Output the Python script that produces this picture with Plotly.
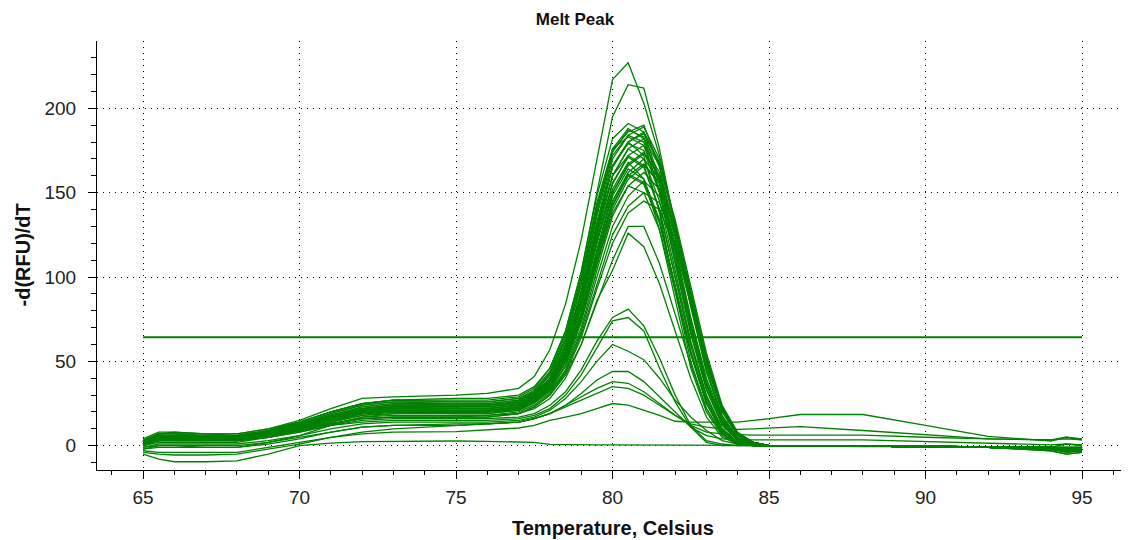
import plotly.graph_objects as go

temps = [65, 65.5, 66, 67, 68, 69, 70, 71, 72, 73,
         75, 76, 77, 77.5, 78, 78.5, 79, 79.5, 80, 80.5,
         81, 81.5, 82, 82.5, 83, 83.5, 84, 84.5, 85, 86,
         88, 90, 92, 94, 94.5, 95]

# Main product peak group (-d(RFU)/dT)
m01 = [3,7,7,6,6,9,14,20,25,27, 27,27,29,34,46,68,103,148,182,191, 186,158,118,76,40,16,4,1,0,0, 0,-1,-1,-2,-2,-2]
m02 = [2,6,6,6,5,8,13,19,24,26, 26,26,28,32,42,62,95,138,175,186, 190,165,125,82,44,18,5,1,0,0, 0,-1,-1,-2,-3,-2]
m03 = [1,5,5,5,5,8,12,18,23,25, 25,25,27,31,40,58,90,132,170,184, 189,170,130,88,48,20,6,2,0,0, 0,-1,-1,-2,-3,-2]
m04 = [3,6,6,5,5,8,13,19,24,26, 25,25,27,32,43,64,98,142,176,188, 182,155,115,72,37,14,3,1,0,0, 0,0,-1,-2,-2,-2]
m05 = [2,5,5,4,4,7,11,17,22,24, 24,24,26,30,39,56,86,128,165,180, 186,168,132,92,52,22,7,2,0,0, 0,-1,-1,-3,-5,-4]
m06 = [2,5,5,5,5,8,12,18,22,24, 23,23,25,30,40,60,92,136,172,184, 180,150,108,66,33,12,3,1,0,0, 0,0,-1,-1,-2,-2]
m07 = [1,4,4,4,4,7,11,16,21,23, 23,23,25,29,38,55,84,124,160,176, 182,166,134,95,55,24,8,2,0,0, 0,-1,-1,-2,-3,-3]
m08 = [0,4,4,4,4,6,10,16,20,22, 22,22,24,29,39,58,89,132,166,180, 172,138,92,50,22,7,1,0,0,0, 0,0,-1,-1,-1,-1]
m09 = [2,6,6,5,5,8,12,17,21,23, 23,24,26,30,38,54,82,120,155,172, 178,162,128,88,50,21,6,2,0,0, 0,-1,-1,-2,-3,-2]
m10 = [1,5,5,4,4,7,11,16,20,22, 22,22,24,28,37,55,85,126,160,176, 170,145,104,62,30,10,2,0,0,0, 0,-1,-1,-1,-2,-1]
m11 = [2,5,5,5,5,8,11,16,20,21, 21,21,23,27,35,52,79,116,150,167, 174,160,128,90,52,22,7,2,0,0, 0,-1,-1,-2,-3,-3]
m12 = [3,7,7,6,6,9,13,18,22,23, 22,22,24,29,40,60,90,128,160,172, 166,140,100,60,28,10,2,1,0,0, 0,0,-1,-1,1,0]
m13 = [1,4,4,4,4,6,10,15,19,21, 20,20,22,26,34,50,76,112,145,162, 170,158,126,88,50,21,6,2,0,0, 0,-1,-1,-2,-3,-2]
m14 = [2,5,5,5,5,8,12,17,21,22, 21,21,23,27,36,54,82,120,152,168, 158,128,86,46,20,6,1,0,0,0, 0,0,-1,-1,-2,-1]
m15 = [0,3,3,3,3,6,9,14,18,20, 20,20,22,26,33,48,73,108,140,158, 166,156,126,90,52,23,7,2,0,0, 0,-1,-1,-3,-5,-4]
m16 = [1,4,4,4,4,7,10,15,19,20, 20,20,22,27,36,52,79,115,148,164, 158,134,95,56,26,9,2,0,0,0, 0,-1,-1,-1,-2,-2]
m17 = [2,5,5,5,4,7,11,16,19,21, 20,20,22,26,33,47,70,104,136,154, 162,152,124,88,52,23,7,2,0,0, 0,-1,-1,-2,-3,-2]
m18 = [3,6,6,6,5,8,12,17,20,21, 21,21,23,28,37,53,78,112,143,160, 155,132,94,55,25,8,1,0,0,0, 0,0,-1,-1,-2,-1]
m19 = [1,4,4,4,4,6,10,14,18,19, 19,19,21,25,32,45,68,100,130,148, 157,148,122,86,50,22,6,1,0,0, 0,-1,-1,-2,-3,-2]
m20 = [2,5,5,4,4,7,11,15,19,20, 19,19,21,26,34,50,75,107,138,154, 150,128,92,54,25,8,1,0,0,0, 0,-1,-1,-1,-2,-2]
m21 = [0,3,3,3,3,6,9,13,17,18, 18,18,20,24,31,44,66,96,125,142, 150,144,120,86,50,22,6,1,0,0, 0,-1,-1,-2,-3,-3]
m22 = [1,4,4,4,4,6,9,13,16,17, 17,17,19,23,30,43,64,93,120,138, 145,140,118,84,49,21,6,1,0,0, 0,-1,-1,-2,-3,-2]
m23 = [2,6,6,5,5,8,12,18,23,25, 24,24,26,31,42,63,96,140,174,187, 183,156,116,74,38,15,4,1,0,0, 0,-1,-1,-2,-3,-2]
m24 = [1,4,4,4,3,6,10,16,21,23, 23,23,25,29,38,56,87,129,166,180, 185,167,131,90,50,21,6,2,0,0, 0,-1,-1,-2,-4,-3]
m25 = [3,7,7,7,6,9,13,18,22,24, 24,24,26,30,40,59,90,131,166,179, 175,150,110,68,34,13,3,1,0,0, 0,0,-1,-1,-2,-2]
m26 = [0,3,3,3,3,5,9,14,19,21, 21,21,23,27,35,51,78,115,150,166, 173,160,128,90,52,22,7,2,0,0, 0,-1,-1,-2,-4,-3]
m27 = [2,6,6,6,5,8,12,17,21,22, 22,22,24,28,35,50,75,110,142,160, 167,156,126,90,52,23,7,2,0,0, 0,-1,-1,-2,-3,-2]
m28 = [1,5,5,5,5,7,11,16,20,21, 20,20,22,27,35,52,78,113,145,161, 156,133,95,56,26,9,2,0,0,0, 0,-1,-1,-1,-2,-2]
m29 = [4,8,8,7,7,10,14,20,25,27, 26,26,28,33,44,66,100,144,176,183, 178,152,112,70,36,14,3,1,0,0, 0,0,-1,-1,-2,-1]
m30 = [-2,0,0,-1,-1,2,6,12,17,19, 20,20,22,27,37,55,84,122,156,171, 165,140,100,60,29,10,2,0,0,0, 0,-1,-1,-1,-2,-2]

# Highest curves
h1 = [3,7,8,7,7,10,15,22,28,29, 30,31,34,41,57,84,122,170,217,227, 203,172,132,88,46,17,4,1,0,0, 0,-1,-1,-2,-2,-2]
h2 = [2,6,6,6,6,9,14,20,25,27, 28,28,30,35,46,68,103,150,195,214, 212,176,130,84,44,16,4,1,0,0, 0,-1,-1,-2,-2,-2]

# Lower curves
l130 = [1,4,4,4,3,6,9,13,16,17, 17,17,19,23,30,42,60,85,110,130, 130,108,78,48,22,7,1,0,0,0, 0,-1,-1,-1,-2,-2]
l126 = [2,4,4,4,4,6,9,13,16,17, 17,18,19,22,28,40,60,86,104,126, 118,96,68,40,17,5,1,0,0,0, 0,-1,-1,-1,-2,-2]
l81 = [0,2,2,2,2,5,8,12,15,16, 16,16,17,19,24,32,45,62,76,81, 71,52,30,12,3,1,0,0,0,0, 0,-1,-1,-1,-2,-1]
l76 = [1,3,3,3,3,5,8,12,14,15, 15,15,16,18,22,30,42,58,74,76, 68,46,26,11,2,0,0,0,0,0, 0,-1,-1,-1,-1,-1]
l60 = [-1,1,1,1,1,3,6,10,13,14, 14,14,15,17,21,28,38,50,60,56, 51,40,27,17,9,3,1,0,0,0, 0,-1,-1,-1,-1,-1]
l44 = [-2,-1,-1,-1,-1,1,4,8,11,12, 13,13,14,16,19,24,31,39,44,44, 38,29,20,11,6,4,3.5,3.4,3.4,3.4, 3.4,2.5,1.5,0.5,1,0.5]
l38 = [-4,-5,-5.5,-5.5,-5,-2,1,5,8,10, 12,13,14,16,19,24,29,34,38,37, 32,25,18,12,8,7,6.5,6.3,6.3,6.3, 6.3,5,4,3.5,4,3.5]
l35 = [-1,0,0,0,0,2,5,8,11,12, 12,13,14,16,19,23,27,31,35,34, 30,24,18,13,11,10,9.7,10,10.5,11.3, 9,6.3,4,3.4,5,4]
l25 = [-3,-4,-4,-4,-4,-1,2,5,7,8, 8.3,9.5,10.5,12,15,17,19,22,25,24, 21,18,14.5,14,14,14,14,15,16,18.5, 18.5,12,5.5,2.8,5,3.4]
flat = [-5,-8,-9.5,-9.5,-9,-5,0,1.5,2.4,2.6, 2.8,2.6,2.2,2,0.8,0.6,0.6,0.5,0.5,0.5, 0.5,0.5,0.5,0.4,0.4,0.3,0.3,0.2,0,0, -0.5,-0.5,-1,-1,-1,-1]

# Threshold line
threshold_value = 64.3
threshold_span = [65, 95]

curves = [m01, m02, m03, m04, m05, m06, m07, m08, m09, m10, m11,
          m12, m13, m14, m15, m16, m17, m18, m19, m20, m21, m22,
          m23, m24, m25, m26, m27, m28, m29, m30,
          h1, h2, l130, l126, l81, l76, l60, l44, l38, l35, l25, flat]
for c in curves:
    assert len(c) == len(temps), len(c)

GREEN = "#008000"
FONT = "Liberation Sans, Arial, sans-serif"

fig = go.Figure()
for c in curves:
    fig.add_trace(go.Scatter(x=temps, y=c, mode="lines",
                             line=dict(color=GREEN, width=1.3),
                             showlegend=False, hoverinfo="skip"))
fig.add_trace(go.Scatter(x=threshold_span, y=[threshold_value] * 2, mode="lines",
                         line=dict(color=GREEN, width=2.2),
                         showlegend=False, hoverinfo="skip"))

xr = [63.53, 96.5]
yr = [-14.4, 239.9]
axis_common = dict(linecolor="#000", linewidth=1, tickcolor="#000", zeroline=False)

# The page body adds an 8px offset, so the figure is 8px smaller and margins shifted.
W, H = 1121, 532
fig.update_layout(
    width=W, height=H,
    margin=dict(l=89, r=0, t=33, b=70),
    plot_bgcolor="white", paper_bgcolor="white",
    showlegend=False,
    title=dict(text="<b>Melt Peak</b>", x=567 / W, xref="container", xanchor="center",
               y=1 - 11 / H, yref="container", yanchor="middle",
               font=dict(family=FONT, size=17, color="#111")),
    xaxis=dict(range=xr, tick0=65, dtick=5, ticks="outside", ticklen=8,
               minor=dict(dtick=1, ticklen=4, ticks="outside", tickcolor="#000"),
               showline=True, showgrid=True, gridcolor="#000", gridwidth=1,
               griddash="1px,5px", tickfont=dict(family=FONT, size=19, color="#222"),
               ticklabelstandoff=2, **axis_common),
    xaxis2=dict(range=xr, overlaying="x", side="top", anchor="y", tick0=65, dtick=5,
                ticks="inside", ticklen=9,
                minor=dict(dtick=1, ticklen=4, ticks="inside", tickcolor="#000"),
                showline=True, showgrid=False, showticklabels=False, **axis_common),
    xaxis3=dict(range=xr, overlaying="x", side="bottom", anchor="y", tick0=65, dtick=5,
                ticks="inside", ticklen=4,
                minor=dict(dtick=1, ticklen=3, ticks="inside", tickcolor="#000"),
                showline=False, showgrid=False, showticklabels=False, **axis_common),
    yaxis=dict(range=yr, tick0=0, dtick=50, ticks="outside", ticklen=8,
               minor=dict(dtick=10, ticklen=5, ticks="outside", tickcolor="#000"),
               showline=True, showgrid=True, gridcolor="#000", gridwidth=1,
               griddash="1px,5px", tickfont=dict(family=FONT, size=19, color="#222"),
               ticklabelstandoff=8, **axis_common),
    yaxis2=dict(range=yr, overlaying="y", side="right", anchor="x", tick0=0, dtick=50,
                ticks="inside", ticklen=7,
                minor=dict(dtick=10, ticklen=4, ticks="inside", tickcolor="#000"),
                showline=True, showgrid=False, showticklabels=False, **axis_common),
    yaxis3=dict(range=yr, overlaying="y", side="left", anchor="x", tick0=0, dtick=50,
                ticks="inside", ticklen=8,
                minor=dict(dtick=10, ticklen=3, ticks="inside", tickcolor="#000"),
                showline=False, showgrid=False, showticklabels=False, **axis_common),
    annotations=[
        dict(text="<b>Temperature, Celsius</b>", xref="paper", yref="paper",
             x=0.5, y=(470 - 528) / 429, xanchor="center", yanchor="middle",
             showarrow=False, font=dict(family=FONT, size=20, color="#111")),
        dict(text="<b>-d(RFU)/dT</b>", xref="paper", yref="paper",
             x=(22 - 97) / 1032, y=0.5, xanchor="center", yanchor="middle",
             textangle=-90, showarrow=False, font=dict(family=FONT, size=20, color="#111")),
    ],
)

fig.write_html("out.html")
